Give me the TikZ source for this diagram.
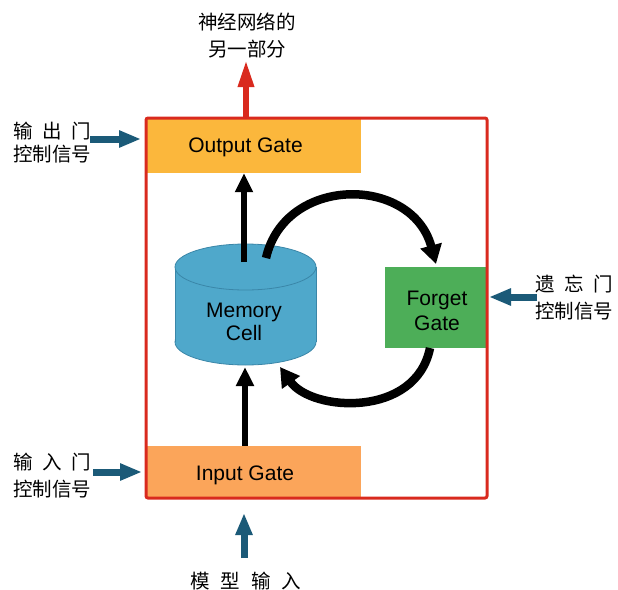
\documentclass[tikz,border=0pt]{standalone}
\usepackage{fontspec}
\setmainfont{Liberation Sans}
\newfontfamily\cjk{Noto Sans CJK SC}
\usetikzlibrary{arrows.meta}

\definecolor{framered}{HTML}{D92A1E}
\definecolor{outgold}{HTML}{FBB73C}
\definecolor{ingold}{HTML}{FBA55A}
\definecolor{forgetgreen}{HTML}{4DAE58}
\definecolor{cellblue}{HTML}{4FA8CB}
\definecolor{cellrim}{HTML}{3A86A8}
\definecolor{ctrlteal}{HTML}{1B5A78}

\begin{document}
\begin{tikzpicture}[x=1pt,y=-1pt,
  gatebox/.style={draw=none, inner sep=0pt, minimum width=214pt},
  engtext/.style={font=\fontsize{21}{25}\selectfont, anchor=base, inner sep=0pt},
  cjktext/.style={font=\cjk\fontsize{19.5}{26}\selectfont, anchor=base west, inner sep=0pt},
  flow/.style={line width=6.5pt, -{Triangle[length=19pt,width=17pt]}},
  loopflow/.style={line width=8.5pt, -{Triangle[length=19pt,width=21pt]}},
  ctrl/.style={draw=ctrlteal, line width=7pt, -{Triangle[length=22pt,width=16pt]}},
  outflow/.style={draw=framered, line width=6pt, -{Triangle[length=27pt,width=15pt]}}
]
\useasboundingbox (0,0) rectangle (618,589);

% gate boxes
\node[gatebox, fill=outgold, minimum height=55pt] (og) at (254,145.5) {};
\node[gatebox, fill=ingold, minimum height=52pt] (ig) at (254,472) {};
\node[draw=none, fill=forgetgreen, inner sep=0pt, minimum width=101pt, minimum height=81pt] (fg) at (435.5,307.5) {};

\node[engtext] (ogtext) at (245.5,152) {Output Gate};
\node[engtext] (igtext) at (245,480) {Input Gate};
\node[engtext] (fgtext1) at (437,305) {Forget};
\node[engtext] (fgtext2) at (437,330) {Gate};

% outer frame
\node[draw=framered, line width=3pt, rounded corners=2pt, inner sep=0pt,
      minimum width=341pt, minimum height=380pt] (frame) at (316.5,308) {};

% memory cell cylinder
\node[inner sep=0pt, minimum width=141pt, minimum height=122pt] (cell) at (245.5,304) {};
\fill[cellblue, draw=cellrim, line width=0.8pt] (245.5,342) ellipse [x radius=70.5, y radius=23];
\fill[cellblue] (175,267) rectangle (316,342);
\draw[cellrim, line width=0.8pt] (175,267) -- (175,342) (316,267) -- (316,342);
\fill[cellblue, draw=cellrim, line width=0.8pt] (245.5,267) ellipse [x radius=70.5, y radius=23];
\node[engtext] (celltext1) at (244,317) {Memory};
\node[engtext] (celltext2) at (244,340) {Cell};

% connection points on the cell and the forget gate
\coordinate (celltop) at (244,262);
\coordinate (cellrimout) at (266,258);
\coordinate (cellbot) at (245,367);
\coordinate (cellback) at (280,367);
\coordinate (fgin) at (436,264);
\coordinate (fgout) at (430,348);

% internal flows
\draw[flow] (celltop) -- (celltop |- og.south);
\draw[flow] (cellbot |- ig.north) -- (cellbot);
\draw[loopflow] (cellrimout) .. controls (285,175) and (412,175) .. (fgin);
\draw[loopflow] (fgout) .. controls (416,418) and (312,412) .. (cellback);

% output to the rest of the network
\coordinate (outtip) at (246,60);
\draw[outflow] (outtip |- frame.north) -- (outtip);

% control signals and model input
\coordinate (oclabel) at (90,139);
\coordinate (iclabel) at (93,472);
\coordinate (fclabel) at (537,297);
\coordinate (inlabel) at (244,558);
\draw[ctrl] (oclabel) -- (oclabel -| 141,0);
\draw[ctrl] (iclabel) -- (iclabel -| 142,0);
\draw[ctrl] (fclabel) -- (fclabel -| 489,0);
\draw[ctrl] (inlabel) -- (inlabel |- 0,513);

% labels
\node[cjktext, anchor=base] (nn1) at (247,29) {神经网络的};
\node[cjktext, anchor=base] (nn2) at (247,56) {另一部分};
\node[cjktext] (oc1) at (13,138) {\makebox[4em][s]{输\hfill 出\hfill 门}};
\node[cjktext] (oc2) at (13,161) {控制信号};
\node[cjktext] (ic1) at (13,469) {\makebox[4em][s]{输\hfill 入\hfill 门}};
\node[cjktext] (ic2) at (13,496) {控制信号};
\node[cjktext] (fc1) at (535,291) {\makebox[4em][s]{遗\hfill 忘\hfill 门}};
\node[cjktext] (fc2) at (535,318) {控制信号};
\node[cjktext] (mi) at (190,588) {\makebox[5.7em][s]{模\hfill 型\hfill 输\hfill 入}};
\end{tikzpicture}
\end{document}
